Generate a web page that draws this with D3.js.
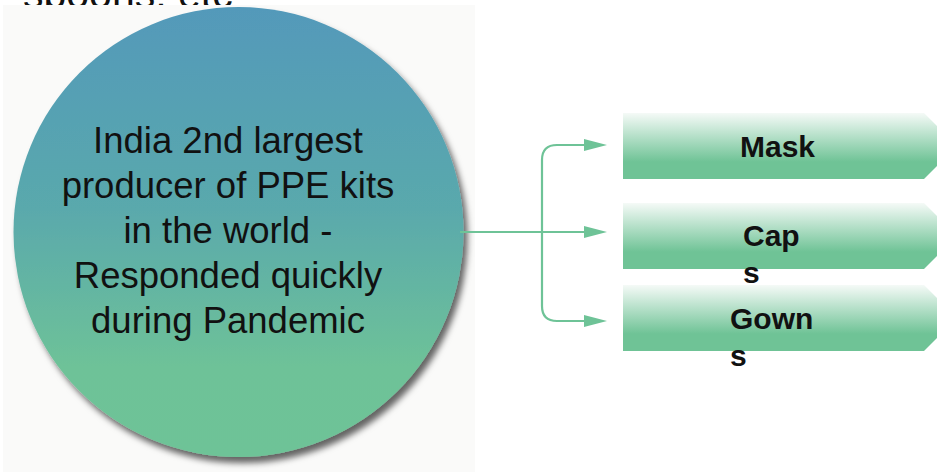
<!DOCTYPE html>
<html>
<head>
<meta charset="utf-8">
<script src="https://cdn.jsdelivr.net/npm/d3@7"></script>
<style>
  html, body { margin: 0; padding: 0; background: #fff; }
  svg { display: block; font-family: "Liberation Sans", Arial, sans-serif; }
</style>
</head>
<body>
<svg width="937" height="472"></svg>
<script>
// text content
var topCutText = 'spoons, etc';
var circleLines = ['India 2nd largest', 'producer of PPE kits', 'in the world -',
                   'Responded quickly', 'during Pandemic'];
var itemLines = [['Mask'], ['Cap', 's'], ['Gown', 's']];

// layout
var boxTop = [113, 203, 285];
var boxH = 66;
var textX = [740, 743, 730];
var textBase = [157, 246, 329];
var arrowY = [145, 232, 321];

var svg = d3.select('svg');
var defs = svg.append('defs');

var cg = defs.append('linearGradient').attr('id', 'circleGrad')
    .attr('x1', 0).attr('y1', 0).attr('x2', 0).attr('y2', 1);
cg.append('stop').attr('offset', '0%').attr('stop-color', '#5399ba');
cg.append('stop').attr('offset', '45%').attr('stop-color', '#5aa9ac');
cg.append('stop').attr('offset', '80%').attr('stop-color', '#6ec298');
cg.append('stop').attr('offset', '100%').attr('stop-color', '#6ec397');

var bg = defs.append('linearGradient').attr('id', 'boxGrad')
    .attr('x1', 0).attr('y1', 0).attr('x2', 0).attr('y2', 1);
bg.append('stop').attr('offset', '0%').attr('stop-color', '#f5faf7');
bg.append('stop').attr('offset', '74%').attr('stop-color', '#6fc396');
bg.append('stop').attr('offset', '100%').attr('stop-color', '#6fc396');

var sh = defs.append('filter').attr('id', 'shadow')
    .attr('x', '-10%').attr('y', '-10%').attr('width', '130%').attr('height', '130%');
sh.append('feDropShadow').attr('dx', 4).attr('dy', 6).attr('stdDeviation', 3)
    .attr('flood-color', '#000').attr('flood-opacity', 0.6);

// text from the slide above, mostly hidden
svg.append('text')
    .attr('x', 23).attr('y', 8)
    .style('font-size', '41px')
    .style('fill', '#111')
    .text(topCutText);

// off-white backdrop behind the circle
svg.append('rect')
    .attr('x', 3).attr('y', 5)
    .attr('width', 472).attr('height', 467)
    .style('fill', '#fafaf9');

// circle
var cx = 238.5, cy = 232, r = 225;
svg.append('circle')
    .attr('cx', cx).attr('cy', cy).attr('r', r)
    .style('fill', 'url(#circleGrad)')
    .attr('filter', 'url(#shadow)');

svg.append('g').selectAll('text')
    .data(circleLines)
    .enter()
    .append('text')
    .attr('x', 228)
    .attr('y', function(d, i) {return 153 + i * 45;})
    .attr('text-anchor', 'middle')
    .style('font-size', '36.5px')
    .style('fill', '#111')
    .text(function(d) {return d;});

// connector
var green = '#6ec397';
var vx = 542, rad = 15, tipX = 607, headL = 23, headH = 6;
var conn = svg.append('g')
    .style('stroke', green).style('stroke-width', 2.2).style('fill', 'none');
conn.append('line')
    .attr('x1', 460).attr('y1', arrowY[1]).attr('x2', tipX - headL).attr('y2', arrowY[1]);
var p = d3.path();
p.moveTo(tipX - headL, arrowY[0]);
p.lineTo(vx + rad, arrowY[0]);
p.quadraticCurveTo(vx, arrowY[0], vx, arrowY[0] + rad);
p.lineTo(vx, arrowY[2] - rad);
p.quadraticCurveTo(vx, arrowY[2], vx + rad, arrowY[2]);
p.lineTo(tipX - headL, arrowY[2]);
conn.append('path').attr('d', p);

svg.append('g').selectAll('path')
    .data(arrowY)
    .enter()
    .append('path')
    .style('fill', green)
    .attr('d', function(y) {
        return 'M' + (tipX - headL) + ',' + (y - headH) + 'L' + tipX + ',' + y +
               'L' + (tipX - headL) + ',' + (y + headH) + 'Z';
    });

// chevron boxes
var bx = 623, bRight = 924, point = 33;
svg.append('g').selectAll('path')
    .data(boxTop)
    .enter()
    .append('path')
    .style('fill', 'url(#boxGrad)')
    .attr('d', function(t) {
        return 'M' + bx + ',' + t + 'L' + bRight + ',' + t +
               'L' + (bRight + point) + ',' + (t + boxH / 2) +
               'L' + bRight + ',' + (t + boxH) + 'L' + bx + ',' + (t + boxH) + 'Z';
    });

var labels = svg.append('g').selectAll('text')
    .data(itemLines)
    .enter()
    .append('text')
    .attr('x', function(d, i) {return textX[i];})
    .attr('y', function(d, i) {return textBase[i];})
    .style('font-size', '30px')
    .style('font-weight', 'bold')
    .style('fill', '#111');
labels.selectAll('tspan')
    .data(function(d) {return d;})
    .enter()
    .append('tspan')
    .attr('x', function() {return d3.select(this.parentNode).attr('x');})
    .attr('dy', function(d, i) {return i == 0 ? 0 : 37;})
    .text(function(d) {return d;});
</script>
</body>
</html>
